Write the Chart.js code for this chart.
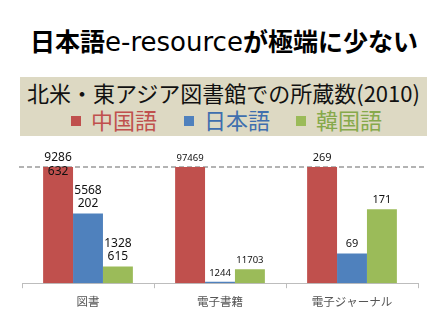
<!DOCTYPE html>
<html><head><meta charset="utf-8">
<script src="https://cdn.jsdelivr.net/npm/chart.js@4/dist/chart.umd.min.js"></script>
<style>
html,body{margin:0;padding:0;background:#fff;width:448px;height:336px;overflow:hidden;font-family:"Noto Sans CJK JP",sans-serif;}
#title{position:absolute;left:0;top:22px;width:448px;text-align:center;font-size:25px;line-height:36px;font-weight:700;color:#000;white-space:nowrap;}
#title span{font-weight:400;font-family:"DejaVu Sans",sans-serif;font-size:26px;}
#banner{position:absolute;left:20px;top:77px;width:407px;height:59px;background:#DDD9C3;}
#sub{position:absolute;left:0;top:1px;width:407px;text-align:center;font-size:22px;line-height:28px;color:#111;white-space:nowrap;}
#leg{position:absolute;left:0;top:29px;width:407px;font-size:22px;line-height:26px;white-space:nowrap;}
.li{position:absolute;top:0;}
.sq{display:inline-block;width:10px;height:10px;margin-right:10px;vertical-align:middle;position:relative;top:-2px;}
#wrap{position:absolute;left:0;top:140px;width:448px;height:196px;}
</style></head><body>
<div id="title">日本語<span>e-resource</span>が極端に少ない</div>
<div id="banner">
  <div id="sub">北米・東アジア図書館での所蔵数(2010)</div>
  <div id="leg"></div>
</div>
<div id="wrap"><canvas id="c" width="448" height="196"></canvas></div>
<script>
const categories = ['図書', '電子書籍', '電子ジャーナル'];
const seriesNames = ['中国語', '日本語', '韓国語'];
const chinese = [9286632, 97469, 269];
const japanese = [5568202, 1244, 69];
const korean = [1328615, 11703, 171];

const colors = ['#C0504D', '#4F81BD', '#9BBB59'];
const legendColors = ['#C0504D', '#3F6FAE', '#86A94B'];
const labelFont = [12, 9.5, 11];
const raw = [chinese, japanese, korean];

// legend (HTML text)
const legX = [51, 164, 276];
const leg = document.getElementById('leg');
seriesNames.forEach((n, i) => {
  const d = document.createElement('div');
  d.className = 'li';
  d.style.left = legX[i] + 'px';
  d.style.color = legendColors[i];
  d.innerHTML = '<span class="sq" style="background:' + colors[i] + '"></span>' + n;
  leg.appendChild(d);
});

// each category is drawn relative to its own largest value
const maxPer = categories.map((_, c) => Math.max(chinese[c], japanese[c], korean[c]));
const datasets = raw.map((arr, i) => ({
  label: seriesNames[i],
  data: arr.map((v, c) => v / maxPer[c]),
  rawValues: arr,
  backgroundColor: colors[i],
  borderWidth: 0,
  barPercentage: 1.0,
  categoryPercentage: 0.68
}));

function fmt(v) {
  const s = String(v);
  return s.length > 5 ? [s.slice(0, 4), s.slice(4)] : [s];
}

const extras = {
  id: 'extras',
  beforeDatasetsDraw(chart) {
    const {ctx, chartArea, scales} = chart;
    const y = scales.y.getPixelForValue(1);
    ctx.save();
    ctx.strokeStyle = '#9a9a9a';
    ctx.lineWidth = 1.5;
    ctx.setLineDash([5, 3]);
    ctx.beginPath();
    ctx.moveTo(chartArea.left - 3, y);
    ctx.lineTo(chartArea.right + 7, y);
    ctx.stroke();
    ctx.restore();
  },
  afterDatasetsDraw(chart) {
    const {ctx, chartArea} = chart;
    ctx.save();
    ctx.fillStyle = '#111';
    ctx.textAlign = 'center';
    ctx.textBaseline = 'middle';
    chart.data.datasets.forEach((ds, di) => {
      const meta = chart.getDatasetMeta(di);
      meta.data.forEach((bar, c) => {
        const fs = labelFont[c];
        const lh = fs + 1.5;
        const lines = fmt(ds.rawValues[c]);
        ctx.font = fs + 'px "Noto Sans", sans-serif';
        let top = bar.y - 3 - lines.length * lh;
        const minTop = chartArea.top - 16;
        if (top < minTop) top = minTop;
        lines.forEach((t, k) => ctx.fillText(t, bar.x, top + lh * k + lh / 2));
      });
    });
    ctx.restore();
  }
};

new Chart(document.getElementById('c'), {
  type: 'bar',
  data: {labels: categories, datasets},
  options: {
    responsive: false,
    animation: false,
    events: [],
    layout: {padding: {top: 27, left: 22, right: 30, bottom: 20}},
    plugins: {legend: {display: false}, tooltip: {enabled: false}, title: {display: false}},
    scales: {
      x: {
        grid: {display: true, offset: true, drawOnChartArea: false, drawTicks: true, tickLength: 5, color: '#bdbdbd'},
        border: {display: true, color: '#bdbdbd', width: 1},
        ticks: {color: '#555', padding: 7, font: {size: 11.5, family: '"Noto Sans CJK JP", sans-serif'}}
      },
      y: {display: false, min: 0, max: 1}
    }
  },
  plugins: [extras]
});
</script>
</body></html>
